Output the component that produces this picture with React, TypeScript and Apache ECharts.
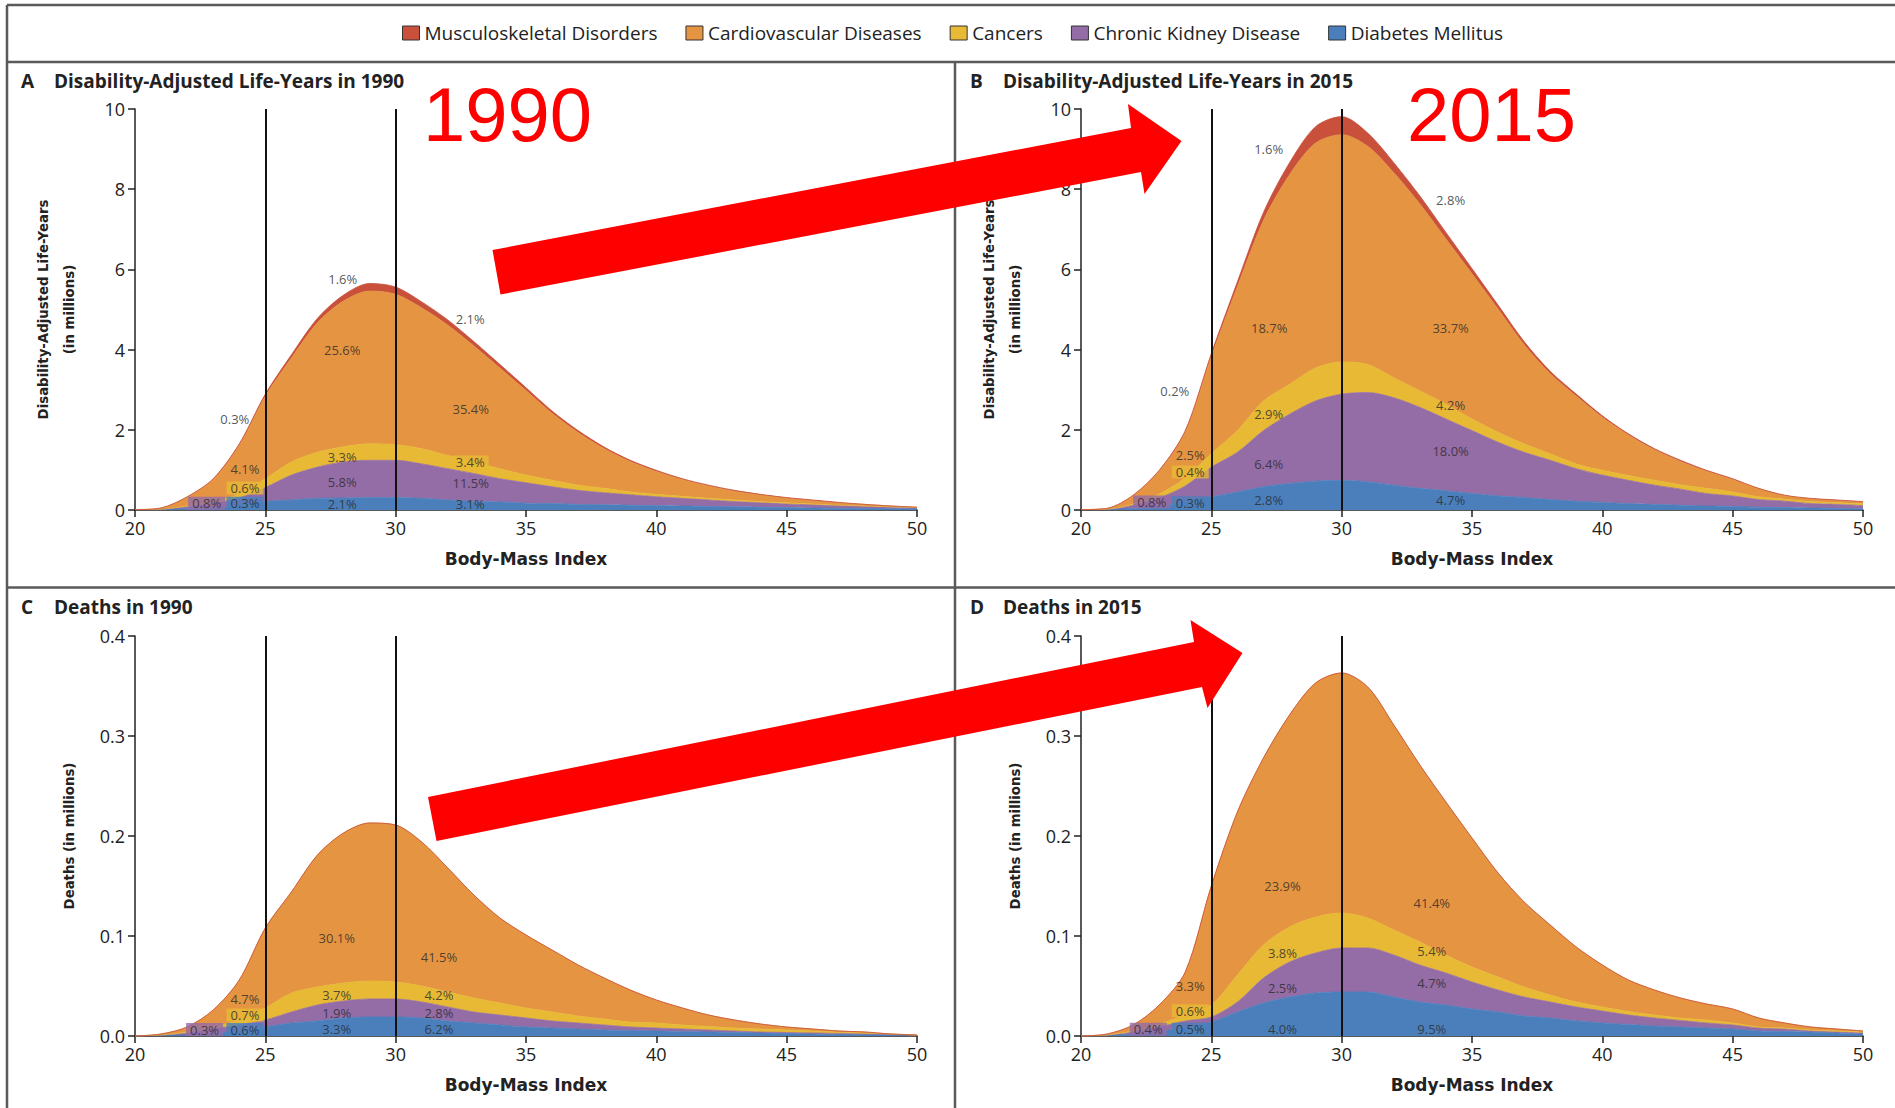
import React, { useEffect, useRef } from "react";
import * as echarts from "echarts";

// ---------- data ----------
const BMI = [20, 21, 22, 23, 24, 25, 26, 27, 28, 29, 30, 31, 32, 33, 34, 35, 36, 37, 38, 39, 40, 41, 42, 43, 44, 45, 46, 47, 48, 49, 50];

// stacking order bottom -> top
const SERIES_ORDER = ["Diabetes Mellitus", "Chronic Kidney Disease", "Cancers", "Cardiovascular Diseases", "Musculoskeletal Disorders"];
const LEGEND_ORDER = ["Musculoskeletal Disorders", "Cardiovascular Diseases", "Cancers", "Chronic Kidney Disease", "Diabetes Mellitus"];

const COLORS: Record<string, string> = {
  "Musculoskeletal Disorders": "#c9503b",
  "Cardiovascular Diseases": "#e59441",
  "Cancers": "#e7b934",
  "Chronic Kidney Disease": "#946ca6",
  "Diabetes Mellitus": "#4a7fbc",
};

// Panel A – DALYs 1990 (millions)
const dalys1990Diabetes = [0.01, 0.01, 0.03, 0.06, 0.12, 0.21, 0.25, 0.29, 0.3, 0.31, 0.31, 0.29, 0.25, 0.22, 0.2, 0.17, 0.16, 0.14, 0.13, 0.12, 0.11, 0.1, 0.09, 0.08, 0.07, 0.06, 0.05, 0.04, 0.04, 0.03, 0.03];
const dalys1990Ckd = [0, 0.01, 0.05, 0.1, 0.18, 0.35, 0.62, 0.78, 0.9, 0.93, 0.93, 0.86, 0.78, 0.69, 0.58, 0.51, 0.42, 0.35, 0.3, 0.26, 0.22, 0.19, 0.16, 0.13, 0.11, 0.09, 0.08, 0.07, 0.05, 0.04, 0.02];
const dalys1990Cancers = [0, 0, 0.02, 0.05, 0.1, 0.22, 0.33, 0.37, 0.38, 0.41, 0.39, 0.38, 0.33, 0.29, 0.25, 0.19, 0.16, 0.13, 0.11, 0.07, 0.06, 0.05, 0.04, 0.04, 0.03, 0.03, 0.02, 0.01, 0.01, 0.01, 0.01];
const dalys1990Cardio = [0, 0.03, 0.22, 0.55, 1.22, 2.06, 2.59, 3.23, 3.63, 3.81, 3.75, 3.51, 3.25, 2.89, 2.51, 2.11, 1.67, 1.31, 0.99, 0.76, 0.57, 0.42, 0.31, 0.22, 0.17, 0.12, 0.09, 0.06, 0.04, 0.02, 0.01];
const dalys1990Musculo = [0, 0, 0.01, 0.02, 0.03, 0.05, 0.08, 0.11, 0.15, 0.19, 0.18, 0.15, 0.13, 0.11, 0.09, 0.07, 0.06, 0.05, 0.04, 0.03, 0.03, 0.02, 0.02, 0.02, 0.01, 0.01, 0.01, 0.01, 0, 0, 0];

// Panel B – DALYs 2015 (millions)
const dalys2015Diabetes = [0.01, 0.01, 0.04, 0.1, 0.2, 0.33, 0.45, 0.58, 0.66, 0.72, 0.74, 0.7, 0.62, 0.54, 0.48, 0.41, 0.35, 0.31, 0.26, 0.22, 0.19, 0.16, 0.14, 0.12, 0.1, 0.09, 0.07, 0.06, 0.05, 0.04, 0.03];
const dalys2015Ckd = [0, 0.01, 0.08, 0.2, 0.4, 0.74, 0.99, 1.4, 1.73, 2.0, 2.15, 2.23, 2.18, 2.02, 1.79, 1.57, 1.34, 1.13, 0.98, 0.81, 0.68, 0.58, 0.48, 0.4, 0.31, 0.26, 0.19, 0.16, 0.11, 0.1, 0.08];
const dalys2015Cancers = [0, 0, 0.03, 0.1, 0.2, 0.33, 0.54, 0.74, 0.74, 0.82, 0.8, 0.7, 0.5, 0.41, 0.37, 0.29, 0.25, 0.21, 0.16, 0.12, 0.12, 0.12, 0.12, 0.11, 0.13, 0.1, 0.07, 0.05, 0.05, 0.04, 0.04];
const dalys2015Cardio = [0, 0.02, 0.21, 0.57, 1.15, 2.43, 3.59, 4.5, 5.23, 5.61, 5.67, 5.44, 5.11, 4.66, 4.12, 3.62, 3.07, 2.47, 2.0, 1.69, 1.32, 1.01, 0.76, 0.58, 0.43, 0.31, 0.2, 0.09, 0.07, 0.06, 0.05];
const dalys2015Musculo = [0, 0, 0.01, 0.02, 0.03, 0.07, 0.12, 0.2, 0.3, 0.41, 0.45, 0.33, 0.25, 0.2, 0.16, 0.13, 0.1, 0.08, 0.06, 0.05, 0.04, 0.03, 0.03, 0.03, 0.02, 0.02, 0.01, 0.01, 0.01, 0.01, 0.01];

// Panel C – Deaths 1990 (millions)
const deaths1990Diabetes = [0, 0.0005, 0.001, 0.003, 0.005, 0.009, 0.013, 0.015, 0.018, 0.019, 0.019, 0.018, 0.015, 0.013, 0.011, 0.009, 0.008, 0.007, 0.006, 0.0055, 0.005, 0.0045, 0.004, 0.0035, 0.003, 0.0025, 0.002, 0.0015, 0.0015, 0.001, 0.0005];
const deaths1990Ckd = [0, 0.0005, 0.002, 0.004, 0.006, 0.007, 0.011, 0.016, 0.017, 0.018, 0.018, 0.016, 0.014, 0.011, 0.01, 0.009, 0.007, 0.006, 0.005, 0.0035, 0.003, 0.0025, 0.002, 0.0015, 0.001, 0.001, 0.001, 0.001, 0.0005, 0.0005, 0.0003];
const deaths1990Cancers = [0, 0, 0.001, 0.002, 0.005, 0.012, 0.019, 0.018, 0.018, 0.018, 0.017, 0.016, 0.015, 0.014, 0.012, 0.01, 0.009, 0.007, 0.006, 0.005, 0.005, 0.004, 0.0035, 0.003, 0.003, 0.0025, 0.002, 0.0015, 0.001, 0.0005, 0.0002];
const deaths1990Cardio = [0, 0.001, 0.005, 0.017, 0.04, 0.08, 0.101, 0.132, 0.15, 0.158, 0.157, 0.144, 0.124, 0.103, 0.085, 0.073, 0.062, 0.051, 0.041, 0.032, 0.023, 0.017, 0.0115, 0.008, 0.005, 0.003, 0.002, 0.001, 0.001, 0, 0];
const deaths1990Musculo = [0, 0, 0, 0, 0, 0, 0, 0, 0, 0, 0, 0, 0, 0, 0, 0, 0, 0, 0, 0, 0, 0, 0, 0, 0, 0, 0, 0, 0, 0, 0];

// Panel D – Deaths 2015 (millions)
const deaths2015Diabetes = [0, 0.0005, 0.002, 0.005, 0.008, 0.014, 0.024, 0.033, 0.039, 0.043, 0.044, 0.044, 0.039, 0.034, 0.031, 0.027, 0.024, 0.02, 0.018, 0.015, 0.013, 0.0115, 0.01, 0.009, 0.008, 0.007, 0.005, 0.0045, 0.004, 0.003, 0.002];
const deaths2015Ckd = [0, 0.0005, 0.002, 0.004, 0.007, 0.005, 0.01, 0.025, 0.035, 0.04, 0.044, 0.044, 0.042, 0.037, 0.032, 0.027, 0.022, 0.019, 0.016, 0.014, 0.012, 0.0095, 0.008, 0.0065, 0.005, 0.004, 0.003, 0.0025, 0.001, 0.001, 0.001];
const deaths2015Cancers = [0, 0, 0.001, 0.003, 0.006, 0.012, 0.027, 0.033, 0.035, 0.036, 0.035, 0.03, 0.025, 0.023, 0.018, 0.015, 0.013, 0.01, 0.007, 0.005, 0.004, 0.0035, 0.003, 0.0025, 0.003, 0.002, 0.001, 0.001, 0.001, 0.001, 0.001];
const deaths2015Cardio = [0, 0.001, 0.006, 0.019, 0.043, 0.119, 0.163, 0.187, 0.212, 0.234, 0.24, 0.231, 0.205, 0.177, 0.153, 0.129, 0.104, 0.085, 0.07, 0.055, 0.042, 0.0315, 0.025, 0.02, 0.016, 0.014, 0.009, 0.005, 0.003, 0.002, 0.001];
const deaths2015Musculo = [0, 0, 0, 0, 0, 0, 0, 0, 0, 0, 0, 0, 0, 0, 0, 0, 0, 0, 0, 0, 0, 0, 0, 0, 0, 0, 0, 0, 0, 0, 0];

// percentage annotations: [BMI, value, text, background series ('' = none)]
const labelsA: [number, number, string, string][] = [
  [27.97, 5.75, "1.6%", ""],
  [32.86, 4.77, "2.1%", ""],
  [23.83, 2.27, "0.3%", ""],
  [27.95, 4.0, "25.6%", ""],
  [32.88, 2.53, "35.4%", ""],
  [27.95, 1.32, "3.3%", ""],
  [32.86, 1.2, "3.4%", "Cancers"],
  [24.22, 1.03, "4.1%", ""],
  [24.22, 0.55, "0.6%", "Cancers"],
  [27.95, 0.7, "5.8%", ""],
  [32.88, 0.68, "11.5%", ""],
  [22.75, 0.17, "0.8%", "Chronic Kidney Disease"],
  [24.22, 0.17, "0.3%", "Diabetes Mellitus"],
  [27.95, 0.15, "2.1%", ""],
  [32.86, 0.15, "3.1%", ""],
];
const labelsB: [number, number, string, string][] = [
  [27.2, 9.01, "1.6%", ""],
  [34.18, 7.73, "2.8%", ""],
  [23.6, 2.97, "0.2%", ""],
  [27.22, 4.55, "18.7%", ""],
  [34.18, 4.55, "33.7%", ""],
  [27.2, 2.39, "2.9%", ""],
  [34.18, 2.61, "4.2%", ""],
  [24.19, 1.36, "2.5%", ""],
  [24.19, 0.95, "0.4%", "Cancers"],
  [27.2, 1.15, "6.4%", ""],
  [34.18, 1.46, "18.0%", ""],
  [22.71, 0.2, "0.8%", "Chronic Kidney Disease"],
  [24.19, 0.18, "0.3%", "Diabetes Mellitus"],
  [27.2, 0.25, "2.8%", ""],
  [34.18, 0.25, "4.7%", ""],
];
const labelsC: [number, number, string, string][] = [
  [27.74, 0.0983, "30.1%", ""],
  [31.66, 0.0793, "41.5%", ""],
  [24.22, 0.0368, "4.7%", ""],
  [27.74, 0.041, "3.7%", ""],
  [31.66, 0.041, "4.2%", ""],
  [24.22, 0.0209, "0.7%", "Cancers"],
  [27.74, 0.0227, "1.9%", ""],
  [31.66, 0.0227, "2.8%", ""],
  [22.67, 0.0064, "0.3%", "Chronic Kidney Disease"],
  [24.22, 0.0064, "0.6%", "Diabetes Mellitus"],
  [27.74, 0.0067, "3.3%", ""],
  [31.66, 0.0067, "6.2%", ""],
];
const labelsD: [number, number, string, string][] = [
  [27.73, 0.15, "23.9%", ""],
  [33.46, 0.1333, "41.4%", ""],
  [27.73, 0.0827, "3.8%", ""],
  [33.46, 0.085, "5.4%", ""],
  [24.19, 0.05, "3.3%", ""],
  [27.73, 0.0483, "2.5%", ""],
  [33.46, 0.0527, "4.7%", ""],
  [24.19, 0.0253, "0.6%", "Cancers"],
  [22.58, 0.0067, "0.4%", "Chronic Kidney Disease"],
  [24.19, 0.0067, "0.5%", "Diabetes Mellitus"],
  [27.73, 0.0067, "4.0%", ""],
  [33.46, 0.0067, "9.5%", ""],
];

const PANEL_LETTERS = ["A", "B", "C", "D"];
const PANEL_TITLES = [
  "Disability-Adjusted Life-Years in 1990",
  "Disability-Adjusted Life-Years in 2015",
  "Deaths in 1990",
  "Deaths in 2015",
];
const Y_NAMES = [
  "Disability-Adjusted Life-Years\n(in millions)",
  "Disability-Adjusted Life-Years\n(in millions)",
  "Deaths (in millions)",
  "Deaths (in millions)",
];
const Y_MAX = [10, 10, 0.4, 0.4];
const Y_INTERVAL = [2, 2, 0.1, 0.1];
const CUTOFFS = [25, 30];
const YEAR_TAGS = ["1990", "2015"];

const PANEL_VALUES = [
  [dalys1990Diabetes, dalys1990Ckd, dalys1990Cancers, dalys1990Cardio, dalys1990Musculo],
  [dalys2015Diabetes, dalys2015Ckd, dalys2015Cancers, dalys2015Cardio, dalys2015Musculo],
  [deaths1990Diabetes, deaths1990Ckd, deaths1990Cancers, deaths1990Cardio, deaths1990Musculo],
  [deaths2015Diabetes, deaths2015Ckd, deaths2015Cancers, deaths2015Cardio, deaths2015Musculo],
];
const PANEL_LABELS = [labelsA, labelsB, labelsC, labelsD];

// ---------- layout ----------
const W = 1895;
const H = 1108;
const GRIDS = [
  { left: 135, top: 109, width: 782, height: 401 },
  { left: 1081, top: 109, width: 782, height: 401 },
  { left: 135, top: 636, width: 782, height: 400 },
  { left: 1081, top: 636, width: 782, height: 400 },
];
const TITLE_POS = [
  { left: 21, top: 70 },
  { left: 970, top: 70 },
  { left: 21, top: 596 },
  { left: 970, top: 596 },
];

const SANS = '"Open Sans", "Noto Sans", sans-serif';
const BOLD_AXIS = '"DejaVu Sans", sans-serif';
const INK = "#222";
const FRAME = "#5a5a5a";

function buildOption() {
  const series: any[] = [];
  const nPanels = PANEL_VALUES.length;
  PANEL_VALUES.forEach((vals, p) => {
    vals.forEach((arr, j) => {
      const name = SERIES_ORDER[j];
      const c = COLORS[name];
      series.push({
        type: "line",
        name,
        xAxisIndex: p,
        yAxisIndex: p,
        stack: "panel" + p,
        smooth: 0.3,
        symbol: "none",
        showSymbol: false,
        silent: true,
        data: arr,
        lineStyle: { width: 0.8, color: c },
        itemStyle: { color: c },
        areaStyle: { color: c, opacity: 1 },
        z: 2,
      });
    });
    // labels + cut-off lines live on a hidden value x-axis of the same grid
    series.push({
      type: "scatter",
      name: "labels" + p,
      xAxisIndex: nPanels + p,
      yAxisIndex: p,
      symbolSize: 1,
      silent: true,
      z: 8,
      itemStyle: { color: "rgba(0,0,0,0)" },
      label: {
        show: true,
        position: "inside",
        formatter: "{b}",
        fontFamily: SANS,
        fontSize: 13,
        lineHeight: 13,
        color: "#2a2a2a",
      },
      markLine: {
        silent: true,
        symbol: "none",
        label: { show: false },
        lineStyle: { color: "#111", width: 2, type: "solid" },
        data: CUTOFFS.map((v) => ({ xAxis: v })),
        z: 5,
      },
      data: PANEL_LABELS[p].map(([x, y, t, box]) => {
        const item: any = { name: t, value: [x, y] };
        if (box) {
          item.label = { backgroundColor: COLORS[box], padding: [0, 4], lineHeight: 13 };
        }
        return item;
      }),
    });
  });

  const axisLineStyle = { color: INK, width: 1.5 };

  const xAxisCat = GRIDS.map((_, p) => ({
    type: "category",
    gridIndex: p,
    data: BMI.map(String),
    boundaryGap: false,
    axisLine: { show: true, onZero: false, lineStyle: axisLineStyle },
    axisTick: { show: true, length: 7, interval: 4, lineStyle: axisLineStyle },
    axisLabel: { margin: 9, interval: 4, fontFamily: SANS, fontSize: 18, color: INK },
    splitLine: { show: false },
    name: "Body-Mass Index",
    nameLocation: "middle",
    nameGap: 40,
    nameTextStyle: { fontFamily: BOLD_AXIS, fontWeight: "bold", fontSize: 17, color: INK },
  }));
  const xAxisVal = GRIDS.map((_, p) => ({
    type: "value",
    gridIndex: p,
    min: 20,
    max: 50,
    interval: 5,
    show: false,
  }));

  const yAxis = GRIDS.map((_, p) => ({
    type: "value",
    gridIndex: p,
    min: 0,
    max: Y_MAX[p],
    interval: Y_INTERVAL[p],
    axisLine: { show: true, onZero: false, lineStyle: axisLineStyle },
    axisTick: { show: true, length: 7, lineStyle: axisLineStyle },
    axisLabel: {
      margin: 10,
      fontFamily: SANS,
      fontSize: 18,
      color: INK,
      formatter: Y_MAX[p] < 1 ? (v: number) => v.toFixed(1) : (v: number) => String(v),
    },
    splitLine: { show: false },
    name: Y_NAMES[p],
    nameLocation: "middle",
    nameRotate: 90,
    nameGap: 53,
    nameTextStyle: { fontFamily: BOLD_AXIS, fontWeight: "bold", fontSize: 13.3, lineHeight: 26, color: INK },
  }));

  const title = PANEL_TITLES.map((t, p) => ({
    text: `{k|${PANEL_LETTERS[p]}}{t|${t}}`,
    left: TITLE_POS[p].left,
    top: TITLE_POS[p].top,
    padding: 0,
    textStyle: {
      rich: {
        k: { fontFamily: SANS, fontWeight: "bold", fontSize: 19, color: INK, width: 33, lineHeight: 22 },
        t: { fontFamily: SANS, fontWeight: "bold", fontSize: 19, color: INK, lineHeight: 22 },
      },
    },
  }));

  const frame = (x1: number, y1: number, x2: number, y2: number) => ({
    type: "line",
    z: 50,
    silent: true,
    shape: { x1, y1, x2, y2 },
    style: { stroke: FRAME, lineWidth: 2.5 },
  });

  const graphic: any[] = [
    frame(7, 5, W, 5),
    frame(7, 5, 7, H),
    frame(7, 62, W, 62),
    frame(7, 587.5, W, 587.5),
    frame(955, 62, 955, H),
    {
      type: "polygon",
      z: 100,
      silent: true,
      shape: {
        points: [
          [492.5, 250],
          [1131, 128],
          [1128, 104],
          [1181.5, 141],
          [1144.5, 194],
          [1141, 172],
          [500.5, 294.5],
        ],
      },
      style: { fill: "#ff0000" },
    },
    {
      type: "polygon",
      z: 100,
      silent: true,
      shape: {
        points: [
          [428, 797],
          [1194, 642],
          [1190.5, 620],
          [1242.5, 653],
          [1207.5, 708],
          [1202, 687],
          [436.5, 841],
        ],
      },
      style: { fill: "#ff0000" },
    },
    {
      type: "text",
      z: 100,
      silent: true,
      x: 423,
      y: 114.5,
      style: {
        text: YEAR_TAGS[0],
        fill: "#ff0000",
        fontFamily: '"Liberation Sans", Arial, sans-serif',
        fontSize: 76,
        textVerticalAlign: "middle",
      },
    },
    {
      type: "text",
      z: 100,
      silent: true,
      x: 1407,
      y: 114.5,
      style: {
        text: YEAR_TAGS[1],
        fill: "#ff0000",
        fontFamily: '"Liberation Sans", Arial, sans-serif',
        fontSize: 76,
        textVerticalAlign: "middle",
      },
    },
  ];

  return {
    animation: false,
    backgroundColor: "#ffffff",
    title,
    legend: {
      data: LEGEND_ORDER,
      left: 402,
      top: 23,
      padding: 0,
      itemWidth: 17,
      itemHeight: 14,
      itemGap: 28,
      icon: "rect",
      selectedMode: false,
      itemStyle: { borderColor: "#333", borderWidth: 1 },
      textStyle: { fontFamily: SANS, fontSize: 19, color: INK, lineHeight: 20 },
    },
    grid: GRIDS,
    xAxis: [...xAxisCat, ...xAxisVal],
    yAxis,
    series,
    graphic,
  };
}

export default function App() {
  const ref = useRef<HTMLDivElement>(null);
  useEffect(() => {
    if (!ref.current) return;
    const chart = echarts.init(ref.current, undefined, { renderer: "svg" });
    chart.setOption(buildOption() as any);
    return () => chart.dispose();
  }, []);
  return (
    <div
      ref={ref}
      style={{ position: "fixed", left: 0, top: 0, width: W, height: H, background: "#fff" }}
    />
  );
}
